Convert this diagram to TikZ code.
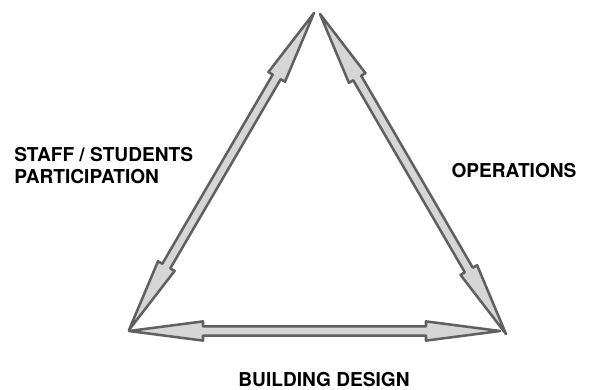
\documentclass[tikz,border=0pt]{standalone}
\usepackage{fontspec}
\setmainfont{TeX Gyre Heros}
\usetikzlibrary{calc}
\definecolor{arrowline}{HTML}{606060}
\definecolor{arrowfill}{HTML}{D6D6D6}

\newcommand{\headlen}{1.85cm}
\newcommand{\headwd}{0.24cm}
\newcommand{\shaftwd}{0.115cm}
\newcommand{\blockarrow}[2]{%
    \coordinate (h1) at ($(#1)!\headlen!(#2)$);
    \coordinate (h2) at ($(#2)!\headlen!(#1)$);
    \draw[blockarrow] (#1) -- ($(h1)!\headwd!90:(#2)$) -- ($(h1)!\shaftwd!90:(#2)$)
        -- ($(h2)!\shaftwd!-90:(#1)$) -- ($(h2)!\headwd!-90:(#1)$) -- (#2)
        -- ($(h2)!\headwd!90:(#1)$) -- ($(h2)!\shaftwd!90:(#1)$)
        -- ($(h1)!\shaftwd!-90:(#2)$) -- ($(h1)!\headwd!-90:(#2)$) -- cycle;
}

\tikzset{
    blockarrow/.style={draw=arrowline, fill=arrowfill, line width=1.8pt, line join=round},
    sidelabel/.style={font=\fontsize{13.6}{15.9}\selectfont\bfseries, inner sep=0pt}
}

\begin{document}
\begin{tikzpicture}
    \useasboundingbox (0,0) rectangle (14.725,9.725);

    \coordinate (topL) at (7.85,9.40);
    \coordinate (topR) at (8.00,9.375);
    \coordinate (leftA) at (3.225,1.475);
    \coordinate (leftB) at (3.225,1.45);
    \coordinate (rightA) at (12.65,1.375);
    \coordinate (rightB) at (12.50,1.45);

    \blockarrow{topL}{leftA}
    \blockarrow{topR}{rightA}
    \blockarrow{leftB}{rightB}

    \node[sidelabel, anchor=west, align=left] (staff) at (0.35,5.58) {STAFF / STUDENTS\\PARTICIPATION};
    \node[sidelabel] (ops) at (12.85,5.45) {OPERATIONS};
    \node[sidelabel] (design) at (8.1,0.24) {BUILDING DESIGN};
\end{tikzpicture}
\end{document}
